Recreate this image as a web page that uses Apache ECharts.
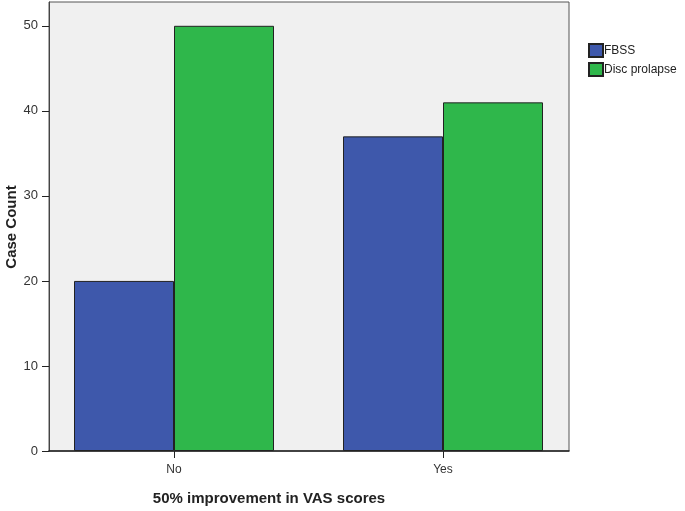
<!DOCTYPE html>
<html>
<head>
<meta charset="utf-8">
<script src="https://cdn.jsdelivr.net/npm/echarts@6.0.0/dist/echarts.min.js"></script>
<style>
html, body { margin: 0; padding: 0; background: #fff; }
#chart { width: 685px; height: 511px; }
</style>
</head>
<body>
<div id="chart"></div>
<script>
var categories = ['No', 'Yes'];
var seriesNames = ['FBSS', 'Disc prolapse'];
var fbssValues = [20, 37];
var discValues = [50, 41];
var yTicks = [0, 10, 20, 30, 40, 50];

var chart = echarts.init(document.getElementById('chart'));
var myColor = ['#3e58ab', '#2fb74b'];
var yMax = 52.8;

chart.setOption({
	backgroundColor: '#fff',
	animation: false,
	color: myColor,
	legend: {
		orient: 'vertical',
		left: 583,
		top: 38,
		data: seriesNames,
		itemWidth: 14,
		itemHeight: 13,
		itemGap: 4,
		icon: 'rect',
		textStyle: { color: '#222', fontSize: 12, fontFamily: 'Arial, Liberation Sans', padding: [0, 0, 0, -4] }
	},
	// y axis title, placed by hand
	graphic: [
		{
			type: 'text', x: 12, y: 227, rotation: Math.PI / 2,
			style: { text: 'Case Count', fill: '#222', font: 'bold 15px Arial, Liberation Sans', align: 'center', verticalAlign: 'middle' }
		}
	],
	grid: [
		{ left: 49, top: 2, width: 520, height: 449, outerBoundsMode: 'none', show: true, backgroundColor: '#f0f0f0', borderColor: '#555', borderWidth: 1 },
		{ left: 39.5, top: 2, width: 538, height: 449, outerBoundsMode: 'none' }
	],
	xAxis: [
		{
			gridIndex: 0, type: 'value', min: 0, max: 1,
			axisLine: { show: true, lineStyle: { color: '#222', width: 1.5 } },
			axisTick: { show: false }, axisLabel: { show: false }, splitLine: { show: false },
			name: '50% improvement in VAS scores', nameLocation: 'middle', nameGap: 40, nameMoveOverlap: false,
			nameTextStyle: { color: '#222', fontSize: 15, fontWeight: 'bold', fontFamily: 'Arial, Liberation Sans', padding: [0, 0, 0, -80] }
		},
		{
			gridIndex: 1, type: 'category', data: categories,
			axisLine: { show: false },
			axisTick: { show: true, alignWithLabel: true, length: 7, lineStyle: { color: '#222' } },
			axisLabel: { color: '#333', fontSize: 12, fontFamily: 'Arial, Liberation Sans', margin: 13 }
		}
	],
	yAxis: [
		{
			gridIndex: 0, type: 'value', min: 0, max: yMax,
			axisLine: { show: true, lineStyle: { color: '#444' } },
			axisTick: { show: true, length: 7, customValues: yTicks, lineStyle: { color: '#222' } },
			axisLabel: { color: '#333', fontSize: 13, fontFamily: 'Arial, Liberation Sans', margin: 11, customValues: yTicks },
			splitLine: { show: false }
		},
		{
			gridIndex: 1, type: 'value', min: 0, max: yMax, show: false
		}
	],
	series: [
		{
			name: seriesNames[0], type: 'bar', xAxisIndex: 1, yAxisIndex: 1,
			barWidth: 100, barGap: 0, data: fbssValues,
			itemStyle: { borderColor: '#222', borderWidth: 1 }
		},
		{
			name: seriesNames[1], type: 'bar', xAxisIndex: 1, yAxisIndex: 1,
			barWidth: 100, barGap: 0, data: discValues,
			itemStyle: { borderColor: '#222', borderWidth: 1 }
		}
	]
});
</script>
</body>
</html>
